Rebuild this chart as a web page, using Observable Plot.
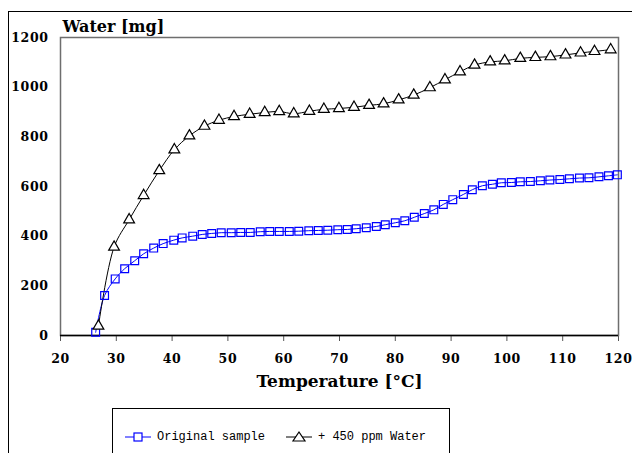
<!DOCTYPE html>
<html><head><meta charset="utf-8">
<script src="https://cdn.jsdelivr.net/npm/d3@7"></script>
<script src="https://cdn.jsdelivr.net/npm/@observablehq/plot@0.6"></script>
<style>
body{margin:0;background:#fff;width:632px;height:453px;overflow:hidden;position:relative;font-family:"DejaVu Serif",serif}
#frame{position:absolute;left:8px;top:11px;width:700px;height:600px;border-top:1.5px solid #000;border-left:1.5px solid #000}
#chart{position:absolute;left:0;top:0}
#legend{position:absolute;left:112px;top:408px;width:336px;height:80px;border:1px solid #000;background:#fff;font-family:"Liberation Mono",monospace;font-size:12px}
.item{position:absolute;top:21px;display:flex;align-items:center}
.item svg{margin-right:4px}
</style></head><body>
<div id="frame"></div>
<div id="chart"></div>
<div id="legend"></div>
<script>
const seriesNames = ["Original sample", "+ 450 ppm Water"];
const origT = [26.3,27.9,29.8,31.5,33.3,34.9,36.7,38.4,40.3,41.8,43.7,45.4,47.1,48.8,50.6,52.3,54,55.8,57.5,59.2,61,62.7,64.5,66.2,67.9,69.7,71.4,73,74.8,76.6,78.2,80,81.7,83.4,85.2,86.9,88.6,90.3,92.2,93.8,95.6,97.4,99,100.8,102.4,104.2,106,107.7,109.5,111.2,113,114.7,116.5,118.2,119.8];
const origW = [13,161,228,269,301,329,352,370,384,393,400,407,411,414,414,415,415,418,419,419,419,420,422,423,424,426,427,430,434,439,446,454,462,476,491,506,528,547,568,587,603,609,615,616,619,620,623,626,628,631,634,635,639,643,647];
const wetT = [26.8,29.6,32.3,34.9,37.7,40.4,43.1,45.8,48.4,51.1,53.9,56.6,59.2,61.8,64.6,67.2,69.9,72.6,75.3,77.9,80.6,83.3,86.2,88.9,91.6,94.2,97,99.6,102.4,105.1,107.8,110.5,113.2,115.7,118.6];
const wetW = [38,356,466,564,664,748,804,843,867,882,891,898,902,893,903,911,914,919,927,933,949,968,998,1030,1062,1089,1102,1106,1116,1120,1123,1130,1138,1144,1151];
const xTicks = [20,30,40,50,60,70,80,90,100,110,120];
const yTicks = [0,200,400,600,800,1000,1200];
const colors = ["#0000ff","#000000"];

const orig = origT.map((t,i)=>({t, w: origW[i]}));
const wet = wetT.map((t,i)=>({t, w: wetW[i]}));

const chart = Plot.plot({
  width: 632, height: 400,
  marginLeft: 60, marginRight: 14, marginTop: 37, marginBottom: 65,
  style: {fontFamily: '"DejaVu Serif", serif', fontSize: "12.5px", fontWeight: "bold", color: "#000", background: "transparent"},
  x: {domain: [20,120], ticks: xTicks, tickFormat: d => String(d), tickSize: 6, tickPadding: 13, label: "Temperature [°C]", labelAnchor: "center", labelOffset: 51, labelArrow: false},
  y: {domain: [0,1200], ticks: yTicks, tickFormat: d => String(d), tickSize: 0, tickPadding: 12, label: null},
  marks: [
    Plot.frame({stroke: "#6e6e6e", strokeWidth: 1.5}),
    Plot.ruleY([0], {stroke: "#000", strokeWidth: 1.5}),
    Plot.line(orig, {x: "t", y: "w", stroke: colors[0], strokeWidth: 1, curve: "catmull-rom"}),
    Plot.line(wet, {x: "t", y: "w", stroke: colors[1], strokeWidth: 1, curve: "catmull-rom"}),
    Plot.dot(orig, {x: "t", y: "w", symbol: "square", r: 4.4, stroke: colors[0], fill: "white", fillOpacity: 0, strokeWidth: 1.2}),
    Plot.dot(wet, {x: "t", y: "w", symbol: "triangle", r: 4.0, stroke: colors[1], fill: "white", strokeWidth: 1.2}),
    Plot.text(["Water [mg]"], {frameAnchor: "top-left", lineAnchor: "bottom", dx: 2, dy: -6, fontSize: 16, fontWeight: "bold", textAnchor: "start"})
  ]
});
chart.querySelectorAll('[aria-label="x-axis label"]').forEach(e=>{e.style.fontSize="17px";});
chart.querySelectorAll('[aria-label="y-axis tick label"], [aria-label="x-axis tick label"]').forEach(e=>{e.style.letterSpacing="0.6px";});
chart.querySelectorAll('[aria-label="x-axis tick"]').forEach(e=>{e.setAttribute("stroke","#555");});
document.getElementById("chart").appendChild(chart);

const legend = document.getElementById("legend");
const lefts = [12, 173];
seriesNames.forEach((name,i)=>{
  const d = document.createElement("div");
  d.className = "item";
  d.style.left = lefts[i] + "px";
  const sym = i===0
    ? '<rect x="9" y="3" width="8" height="8" fill="white" stroke="#0000ff" stroke-width="1.2"/>'
    : '<path d="M13,2 L19,11 L7,11 Z" fill="white" stroke="#000" stroke-width="1.2"/>';
  d.innerHTML = `<svg width="28" height="14"><line x1="0" x2="26" y1="7" y2="7" stroke="${colors[i]}" stroke-width="1"/>${sym}</svg><span>${name}</span>`;
  legend.appendChild(d);
});
</script>
</body></html>
